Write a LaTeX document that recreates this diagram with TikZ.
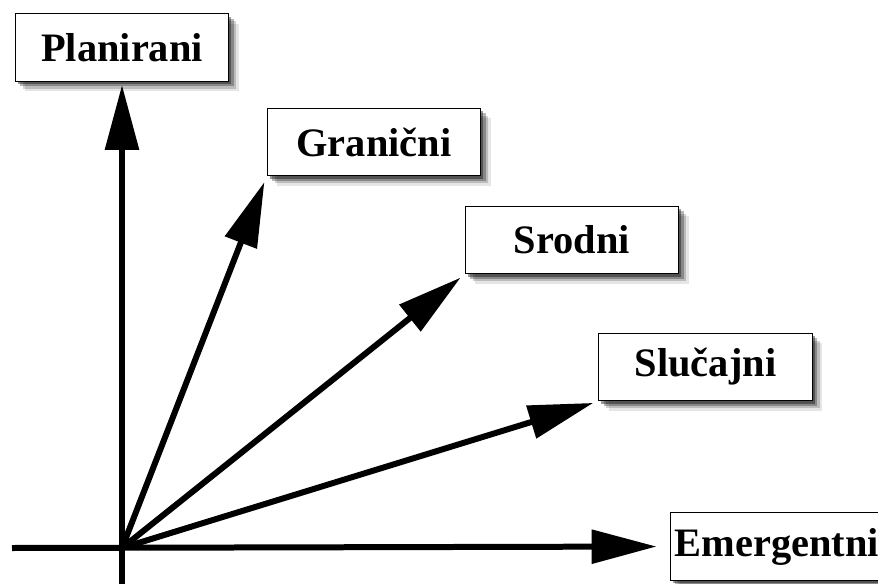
\documentclass[tikz,border=0pt]{standalone}
\usepackage{fontspec}
\setmainfont{Liberation Serif}
\usetikzlibrary{arrows.meta,shadows}

\tikzset{
  kindbox/.style={draw=black, line width=0.8pt, fill=white,
    minimum width=4.27cm, minimum height=1.35cm, inner sep=0pt,
    font=\fontsize{23}{27}\selectfont\bfseries,
    drop shadow={shadow xshift=.2cm, shadow yshift=-.2cm, opacity=.1, fill=black},
    drop shadow={shadow xshift=.15cm, shadow yshift=-.15cm, opacity=.18, fill=black},
    drop shadow={shadow xshift=.1cm, shadow yshift=-.1cm, opacity=.28, fill=black},
    drop shadow={shadow xshift=.05cm, shadow yshift=-.06cm, opacity=.4, fill=black}},
  vec/.style={line width=0.12cm, -{Triangle[length=1.3cm,width=0.66cm]}}
}

\begin{document}
\begin{tikzpicture}[x=0.02cm, y=-0.02cm]
 \useasboundingbox (0,0) rectangle (878,584);

 % strategy boxes
 \node[kindbox] (plan) at (122,47.5) {Planirani};
 \node[kindbox] (gran) at (374,142) {Granični};
 \node[kindbox] (srod) at (572,240) {Srodni};
 \node[kindbox] (sluc) at (705.5,367) {Slučajni};
 \node[kindbox] (emer) at (777,546.5) {Emergentni};

 % axes
 \coordinate (o) at (122,548);
 \coordinate (vb) at (122,590);
 \coordinate (hl) at (12,548);
 \draw[vec, shorten >=3*0.02cm] (vb) -- (plan.south);
 \draw[vec, shorten >=13*0.02cm] (hl) -- (emer.west);

 % vectors from the origin
 \draw[vec, shorten >=6*0.02cm] (o) -- (gran.south west);
 \draw[vec, shorten >=5*0.02cm] (o) -- (srod.south west);
 \draw[vec, shorten >=5*0.02cm] (o) -- (sluc.south west);
\end{tikzpicture}
\end{document}
